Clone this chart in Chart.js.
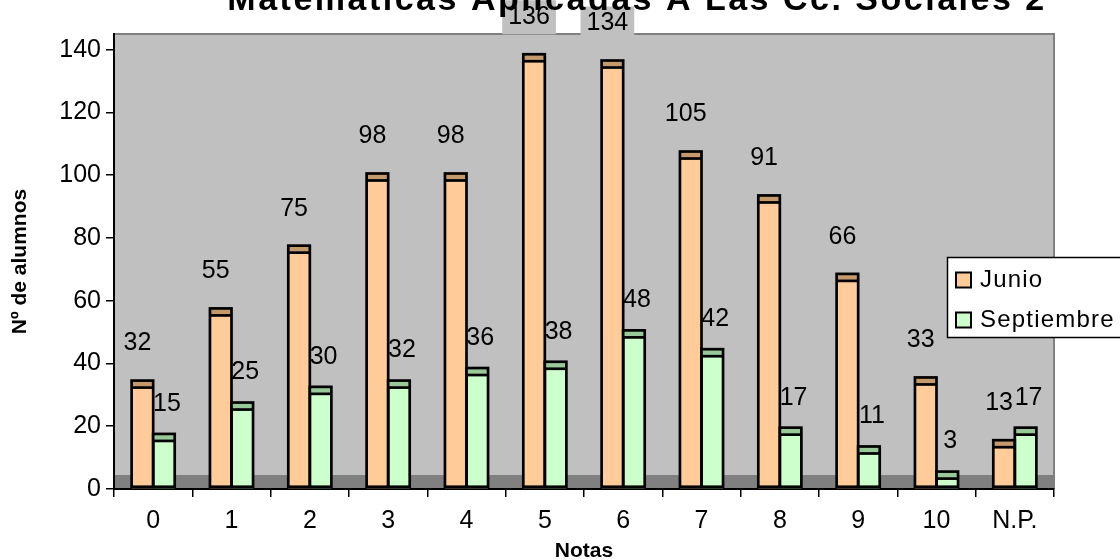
<!DOCTYPE html>
<html><head><meta charset="utf-8">
<script src="https://cdn.jsdelivr.net/npm/chart.js@4.4.1/dist/chart.umd.min.js"></script>
<style>html,body{margin:0;padding:0;background:#fff;overflow:hidden}#wrap{width:1120px;height:560px;position:relative}</style>
</head><body><div id="wrap"><canvas id="c" width="1120" height="560"></canvas></div>
<script>
const chartTitle = 'Matemáticas Aplicadas A Las Cc. Sociales 2';
const categories = ['0','1','2','3','4','5','6','7','8','9','10','N.P.'];
const junio = [32,55,75,98,98,136,134,105,91,66,33,13];
const septiembre = [15,25,30,32,36,38,48,42,17,11,3,17];
const seriesNames = ['Junio','Septiembre'];
const yTickValues = [0,20,40,60,80,100,120,140];
const xTitle = 'Notas';
const yTitle = 'Nº de alumnos';

const FONT = "'Liberation Sans', Arial, sans-serif";
const faceColors = ['#FFCC99', '#CCFFCC'];
const capColors = ['#C49A6C', '#99C899'];
const labelDx = [-5, 3];
const labelDy = [-45, -38];

function barProps(bar){ return bar.getProps(['x','y','base','width'], true); }

const plotBg = {
  id: 'plotBg',
  beforeDraw(chart) {
    const {ctx, chartArea: a} = chart;
    ctx.save();
    ctx.fillStyle = '#C0C0C0';
    ctx.fillRect(a.left, a.top, a.right - a.left, a.bottom - a.top);
    ctx.fillStyle = '#808080';
    ctx.fillRect(a.left, a.bottom - 14, a.right - a.left, 14);
    ctx.strokeStyle = '#808080'; ctx.lineWidth = 2;
    ctx.beginPath(); ctx.moveTo(a.left, a.top); ctx.lineTo(a.right, a.top); ctx.lineTo(a.right, a.bottom); ctx.stroke();
    ctx.restore();
  }
};

function eachLabel(chart, cb){
  chart.data.datasets.forEach((ds, i) => {
    const meta = chart.getDatasetMeta(i);
    meta.data.forEach((bar, j) => {
      const p = barProps(bar);
      cb(String(ds.data[j]), p.x + labelDx[i], p.y + labelDy[i], i);
    });
  });
}

const barDeco = {
  id: 'barDeco',
  beforeDatasetsDraw(chart) {
    const ctx = chart.ctx;
    ctx.save();
    ctx.font = '25px ' + FONT;
    ctx.fillStyle = '#C0C0C0';
    eachLabel(chart, (t, x, y) => {
      const w = ctx.measureText(t).width;
      ctx.fillRect(x - w/2 - 6, y - 17, w + 12, 34);
    });
    ctx.restore();
  },
  afterDatasetsDraw(chart) {
    const ctx = chart.ctx;
    ctx.save();
    chart.data.datasets.forEach((ds, i) => {
      const meta = chart.getDatasetMeta(i);
      meta.data.forEach((bar) => {
        const {x, y, base, width: w} = barProps(bar);
        const l = x - w/2;
        ctx.fillStyle = capColors[i];
        ctx.fillRect(l, y - 8, w, 8);
        ctx.strokeStyle = '#000';
        ctx.lineWidth = 2.7;
        ctx.beginPath(); ctx.moveTo(l, y - 1); ctx.lineTo(l + w, y - 1); ctx.stroke();
        ctx.strokeRect(l, y - 8, w, (base - 1.5) - (y - 8));
      });
    });
    ctx.font = '25px ' + FONT;
    ctx.fillStyle = '#000';
    ctx.textAlign = 'center';
    ctx.textBaseline = 'middle';
    eachLabel(chart, (t, x, y) => ctx.fillText(t, x, y));
    ctx.restore();
  }
};

const legendPlugin = {
  id: 'customLegend',
  afterDraw(chart) {
    const ctx = chart.ctx;
    ctx.save();
    ctx.fillStyle = '#fff';
    ctx.fillRect(947, 257, 200, 81);
    ctx.strokeStyle = '#000'; ctx.lineWidth = 1.5;
    ctx.strokeRect(947.5, 257.5, 200, 80);
    ctx.font = '24px ' + FONT;
    try { ctx.letterSpacing = '1.2px'; } catch(e) {}
    ctx.textBaseline = 'middle';
    ctx.textAlign = 'left';
    chart.data.datasets.forEach((ds, i) => {
      const cy = 280 + i * 40;
      ctx.fillStyle = ds.backgroundColor;
      ctx.fillRect(956, cy - 7.5, 15, 15);
      ctx.lineWidth = 2;
      ctx.strokeStyle = '#000';
      ctx.strokeRect(956, cy - 7.5, 15, 15);
      ctx.fillStyle = '#000';
      ctx.fillText(ds.label, 980, cy);
    });
    ctx.restore();
  }
};

const titlePlugin = {
  id: 'cutTitle',
  afterDraw(chart) {
    const ctx = chart.ctx;
    ctx.save();
    ctx.font = 'bold 34px ' + FONT;
    try { ctx.letterSpacing = '2.5px'; } catch(e) {}
    ctx.fillStyle = '#000';
    ctx.textAlign = 'center';
    ctx.textBaseline = 'alphabetic';
    ctx.fillText(chartTitle, 637, 10);
    ctx.restore();
  }
};

new Chart(document.getElementById('c'), {
  type: 'bar',
  data: {
    labels: categories,
    datasets: [
      {label: seriesNames[0], data: junio, backgroundColor: faceColors[0], borderWidth: 0},
      {label: seriesNames[1], data: septiembre, backgroundColor: faceColors[1], borderWidth: 0}
    ]
  },
  options: {
    responsive: false,
    animation: false,
    layout: {padding: {top: 34, right: 66, left: 0, bottom: 0}},
    datasets: {bar: {categoryPercentage: 0.55, barPercentage: 1}},
    plugins: {legend: {display: false}, title: {display: false}, tooltip: {enabled: false}},
    scales: {
      x: {
        grid: {offset: true, drawOnChartArea: false, drawTicks: true, tickLength: 8, color: '#000', lineWidth: 1.5},
        border: {color: '#000', width: 2},
        ticks: {color: '#000', font: {family: FONT, size: 25}, padding: 9, maxRotation: 0, autoSkip: false},
        title: {display: true, text: xTitle, color: '#000', font: {family: FONT, size: 21, weight: 'bold', lineHeight: 1}, padding: {top: 0, bottom: -2}},
        afterFit(s) { s.height = 71; }
      },
      y: {
        min: 0, max: 145,
        afterBuildTicks(s) { s.ticks = yTickValues.map(v => ({value: v})); },
        grid: {drawOnChartArea: false, drawTicks: true, tickLength: 8, color: '#000', lineWidth: 1.5},
        border: {color: '#000', width: 2},
        ticks: {color: '#000', font: {family: FONT, size: 25}, padding: 5},
        title: {display: true, text: yTitle, color: '#000', font: {family: FONT, size: 21, weight: 'bold', lineHeight: 1}, padding: {top: 10, bottom: 0}},
        afterFit(s) { s.width = 114; }
      }
    }
  },
  plugins: [plotBg, barDeco, legendPlugin, titlePlugin]
});
</script>
</body></html>
